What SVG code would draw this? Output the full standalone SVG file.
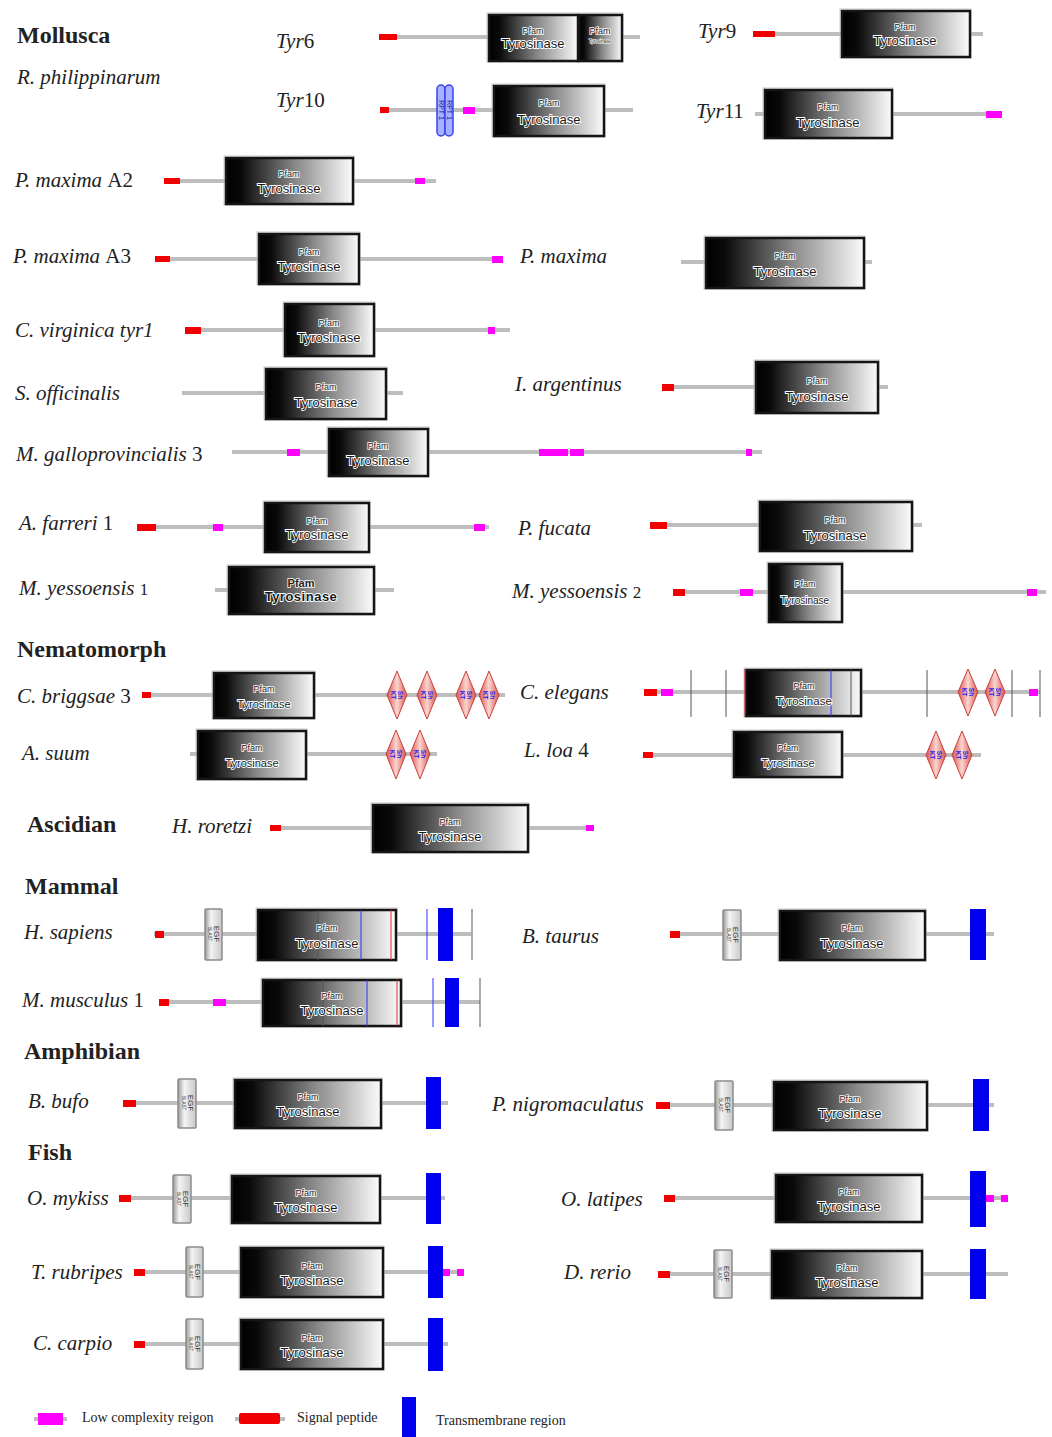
<svg xmlns="http://www.w3.org/2000/svg" width="1052" height="1437" viewBox="0 0 1052 1437">
<defs>
<linearGradient id="pfg" x1="0" y1="0" x2="1" y2="0">
<stop offset="0" stop-color="#000"/><stop offset="0.12" stop-color="#0a0a0a"/><stop offset="0.55" stop-color="#8a8a8a"/><stop offset="1" stop-color="#fbfbfb"/>
</linearGradient>
<linearGradient id="egfg" x1="0" y1="0" x2="1" y2="0">
<stop offset="0" stop-color="#9a9a9a"/><stop offset="0.35" stop-color="#f4f4f4"/><stop offset="1" stop-color="#c8c8c8"/>
</linearGradient>
<linearGradient id="dmg" x1="0" y1="0" x2="1" y2="0">
<stop offset="0" stop-color="#d9534f"/><stop offset="0.5" stop-color="#fbd5d0"/><stop offset="1" stop-color="#d9534f"/>
</linearGradient>
</defs>
<style>
.ln{stroke:#bdbdbd;stroke-width:4;fill:none}
.sp{fill:#f00000}
.lc{fill:#ff00ff}
.tm{fill:#0000ee}
.pf{fill:url(#pfg);stroke:#151515;stroke-width:2.5}
.pfo{fill:none;stroke:#c8c8c8;stroke-width:1}
.pfs{font-family:"Liberation Sans",Arial,sans-serif;font-size:9px;fill:#222;text-anchor:middle;stroke:#fff;stroke-width:1.6;paint-order:stroke}
.pft{font-family:"Liberation Sans",Arial,sans-serif;font-size:13px;fill:#1a1a1a;text-anchor:middle;stroke:#fff;stroke-width:1.8;paint-order:stroke}
.lb{font-family:"Liberation Serif","Times New Roman",serif;font-style:italic;font-size:21px;fill:#222}
.n{font-style:normal}
.hd{font-family:"Liberation Serif","Times New Roman",serif;font-weight:bold;font-size:24px;fill:#222}
.egf{fill:url(#egfg);stroke:#8c8c8c;stroke-width:1.5}
.egt{font-family:"Liberation Sans",Arial,sans-serif;font-size:8px;fill:#333;text-anchor:middle}
.egs{font-family:"Liberation Sans",Arial,sans-serif;font-size:4.5px;fill:#333;text-anchor:middle}
.dm{fill:url(#dmg);stroke:#c9403c;stroke-width:1}
.dt{font-family:"Liberation Sans",Arial,sans-serif;font-size:6.5px;fill:#2020ee;font-weight:bold;text-anchor:middle}
.vl{stroke:#555;stroke-width:1}
.vb{stroke:#3030ff;stroke-width:1}
.vr{stroke:#e03030;stroke-width:1}
.rpt{fill:#a8b0ff;stroke:#3344ee;stroke-width:1.5}
.rt{font-family:"Liberation Sans",Arial,sans-serif;font-size:7px;fill:#1a1aa0;text-anchor:middle}
.lg{font-family:"Liberation Serif","Times New Roman",serif;font-size:14px;fill:#222}
</style>

<g id="headers">
<text class="hd" x="17" y="43">Mollusca</text>
<text class="lb" x="17" y="84">R. philippinarum</text>
<text class="hd" x="17" y="657">Nematomorph</text>
<text class="hd" x="27" y="832">Ascidian</text>
<text class="hd" x="25" y="894">Mammal</text>
<text class="hd" x="24" y="1059">Amphibian</text>
<text class="hd" x="28" y="1160">Fish</text>
</g>

<g id="labels">
<text class="lb" x="276" y="48">Tyr<tspan class="n">6</tspan></text>
<text class="lb" x="698" y="38">Tyr<tspan class="n">9</tspan></text>
<text class="lb" x="276" y="107">Tyr<tspan class="n">10</tspan></text>
<text class="lb" x="696" y="118">Tyr<tspan class="n">11</tspan></text>
<text class="lb" x="15" y="187">P. maxima <tspan class="n">A2</tspan></text>
<text class="lb" x="13" y="263">P. maxima <tspan class="n">A3</tspan></text>
<text class="lb" x="520" y="263">P. maxima</text>
<text class="lb" x="15" y="337">C. virginica tyr1</text>
<text class="lb" x="15" y="400">S. officinalis</text>
<text class="lb" x="515" y="391">I. argentinus</text>
<text class="lb" x="16" y="461">M. galloprovincialis <tspan class="n">3</tspan></text>
<text class="lb" x="19" y="530">A. farreri <tspan class="n">1</tspan></text>
<text class="lb" x="518" y="535">P. fucata</text>
<text class="lb" x="19" y="595">M. yessoensis <tspan class="n" font-size="17">1</tspan></text>
<text class="lb" x="512" y="598">M. yessoensis <tspan class="n" font-size="17">2</tspan></text>
<text class="lb" x="17" y="703">C. briggsae <tspan class="n">3</tspan></text>
<text class="lb" x="520" y="699">C. elegans</text>
<text class="lb" x="22" y="760">A. suum</text>
<text class="lb" x="524" y="757">L. loa <tspan class="n">4</tspan></text>
<text class="lb" x="172" y="833">H. roretzi</text>
<text class="lb" x="24" y="939">H. sapiens</text>
<text class="lb" x="522" y="943">B. taurus</text>
<text class="lb" x="22" y="1007">M. musculus <tspan class="n">1</tspan></text>
<text class="lb" x="28" y="1108">B. bufo</text>
<text class="lb" x="492" y="1111">P. nigromaculatus</text>
<text class="lb" x="27" y="1205">O. mykiss</text>
<text class="lb" x="561" y="1206">O. latipes</text>
<text class="lb" x="31" y="1279">T. rubripes</text>
<text class="lb" x="564" y="1279">D. rerio</text>
<text class="lb" x="33" y="1350">C. carpio</text>
</g>

<g id="connectors">
<line class="ln" x1="379" y1="37" x2="640" y2="37"/>
<line class="ln" x1="753" y1="34" x2="983" y2="34"/>
<line class="ln" x1="380" y1="110" x2="633" y2="110"/>
<line class="ln" x1="755" y1="114" x2="1002" y2="114"/>
<line class="ln" x1="164" y1="181" x2="436" y2="181"/>
<line class="ln" x1="155" y1="259" x2="503" y2="259"/>
<line class="ln" x1="681" y1="262" x2="872" y2="262"/>
<line class="ln" x1="185" y1="330" x2="510" y2="330"/>
<line class="ln" x1="182" y1="393" x2="403" y2="393"/>
<line class="ln" x1="662" y1="387" x2="888" y2="387"/>
<line class="ln" x1="232" y1="452" x2="762" y2="452"/>
<line class="ln" x1="137" y1="527" x2="489" y2="527"/>
<line class="ln" x1="650" y1="525" x2="922" y2="525"/>
<line class="ln" x1="215" y1="590" x2="394" y2="590"/>
<line class="ln" x1="673" y1="592" x2="1046" y2="592"/>
<line class="ln" x1="142" y1="695" x2="505" y2="695"/>
<line class="ln" x1="644" y1="692" x2="1040" y2="692"/>
<line class="ln" x1="190" y1="754" x2="437" y2="754"/>
<line class="ln" x1="643" y1="755" x2="981" y2="755"/>
<line class="ln" x1="270" y1="828" x2="594" y2="828"/>
<line class="ln" x1="154" y1="934" x2="471" y2="934"/>
<line class="ln" x1="670" y1="934" x2="994" y2="934"/>
<line class="ln" x1="159" y1="1002" x2="480" y2="1002"/>
<line class="ln" x1="123" y1="1103" x2="448" y2="1103"/>
<line class="ln" x1="656" y1="1105" x2="994" y2="1105"/>
<line class="ln" x1="119" y1="1198" x2="445" y2="1198"/>
<line class="ln" x1="664" y1="1198" x2="1008" y2="1198"/>
<line class="ln" x1="134" y1="1272" x2="464" y2="1272"/>
<line class="ln" x1="658" y1="1274" x2="1008" y2="1274"/>
<line class="ln" x1="134" y1="1344" x2="448" y2="1344"/>
</g>

<g id="tyr6">
<rect class="sp" x="379" y="34" width="18" height="6"/>
<rect class="pfo" x="487" y="13" width="136" height="49"/>
<rect class="pf" x="489" y="15" width="89" height="46"/>
<text class="pfs" x="533" y="34">Pfam</text><text class="pft" x="533" y="48">Tyrosinase</text>
<rect class="pf" x="579" y="15" width="43" height="46"/>
<text class="pfs" x="600" y="34">Pfam</text><text class="pfs" x="600" y="43" style="font-size:4.5px;stroke-width:1">Tyrosinase</text>
</g>

<g id="tyr9">
<rect class="sp" x="753" y="31" width="22" height="6"/>
<rect class="pfo" x="840" y="9" width="131" height="49"/>
<rect class="pf" x="842" y="11" width="128" height="46"/>
<text class="pfs" x="905" y="30">Pfam</text><text class="pft" x="905" y="45">Tyrosinase</text>
</g>

<g id="tyr10">
<rect class="sp" x="380" y="107" width="9" height="6"/>
<rect class="rpt" x="437" y="85" width="8" height="51" rx="4"/>
<rect class="rpt" x="445" y="85" width="8" height="51" rx="4"/>
<text class="rt" transform="translate(441,110) rotate(90)" y="2.5">RPT 1</text>
<text class="rt" transform="translate(449,110) rotate(90)" y="2.5">RPT 1</text>
<rect class="lc" x="463" y="107" width="12" height="7"/>
<rect class="pfo" x="492" y="84" width="113" height="53"/>
<rect class="pf" x="494" y="86" width="110" height="50"/>
<text class="pfs" x="549" y="106">Pfam</text><text class="pft" x="549" y="124">Tyrosinase</text>
</g>

<g id="tyr11">
<rect class="pfo" x="763" y="88" width="130" height="51"/>
<rect class="pf" x="765" y="90" width="127" height="48"/>
<text class="pfs" x="828" y="110">Pfam</text><text class="pft" x="828" y="127">Tyrosinase</text>
<rect class="lc" x="986" y="111" width="16" height="7"/>
</g>

<g id="pmaxA2">
<rect class="sp" x="164" y="178" width="16" height="6"/>
<rect class="pfo" x="224" y="156" width="130" height="49"/>
<rect class="pf" x="226" y="158" width="127" height="46"/>
<text class="pfs" x="289" y="177">Pfam</text><text class="pft" x="289" y="193">Tyrosinase</text>
<rect class="lc" x="415" y="178" width="10" height="6"/>
</g>

<g id="pmaxA3">
<rect class="sp" x="155" y="256" width="15" height="6"/>
<rect class="pfo" x="257" y="232" width="103" height="53"/>
<rect class="pf" x="259" y="234" width="100" height="50"/>
<text class="pfs" x="309" y="255">Pfam</text><text class="pft" x="309" y="271">Tyrosinase</text>
<rect class="lc" x="492" y="256" width="11" height="7"/>
</g>

<g id="pmax">
<rect class="pfo" x="704" y="236" width="161" height="53"/>
<rect class="pf" x="706" y="238" width="158" height="50"/>
<text class="pfs" x="785" y="259">Pfam</text><text class="pft" x="785" y="276">Tyrosinase</text>
</g>

<g id="cvirg">
<rect class="sp" x="185" y="327" width="16" height="7"/>
<rect class="pfo" x="283" y="302" width="92" height="55"/>
<rect class="pf" x="285" y="304" width="89" height="52"/>
<text class="pfs" x="329" y="326">Pfam</text><text class="pft" x="329" y="342">Tyrosinase</text>
<rect class="lc" x="488" y="327" width="7" height="7"/>
</g>

<g id="soff">
<rect class="pfo" x="264" y="367" width="123" height="53"/>
<rect class="pf" x="266" y="369" width="120" height="50"/>
<text class="pfs" x="326" y="390">Pfam</text><text class="pft" x="326" y="407">Tyrosinase</text>
</g>

<g id="iarg">
<rect class="sp" x="662" y="384" width="12" height="7"/>
<rect class="pfo" x="754" y="360" width="125" height="54"/>
<rect class="pf" x="756" y="362" width="122" height="51"/>
<text class="pfs" x="817" y="384">Pfam</text><text class="pft" x="817" y="401">Tyrosinase</text>
</g>

<g id="mgallo">
<rect class="lc" x="287" y="449" width="13" height="7"/>
<rect class="pfo" x="327" y="427" width="102" height="50"/>
<rect class="pf" x="329" y="429" width="99" height="47"/>
<text class="pfs" x="378" y="449">Pfam</text><text class="pft" x="378" y="465">Tyrosinase</text>
<rect class="lc" x="539" y="449" width="29" height="7"/>
<rect class="lc" x="570" y="449" width="14" height="7"/>
<rect class="lc" x="746" y="449" width="6" height="7"/>
</g>

<g id="afarreri">
<rect class="sp" x="137" y="524" width="19" height="7"/>
<rect class="lc" x="213" y="524" width="10" height="7"/>
<rect class="pfo" x="263" y="501" width="107" height="52"/>
<rect class="pf" x="265" y="503" width="104" height="49"/>
<text class="pfs" x="317" y="524">Pfam</text><text class="pft" x="317" y="539">Tyrosinase</text>
<rect class="lc" x="474" y="524" width="11" height="7"/>
</g>

<g id="pfucata">
<rect class="sp" x="650" y="522" width="17" height="7"/>
<rect class="pfo" x="758" y="500" width="155" height="52"/>
<rect class="pf" x="760" y="502" width="152" height="49"/>
<text class="pfs" x="835" y="523">Pfam</text><text class="pft" x="835" y="540">Tyrosinase</text>
</g>

<g id="myess1">
<rect class="pfo" x="227" y="565" width="148" height="50"/>
<rect class="pf" x="229" y="567" width="145" height="47"/>
<text class="pfs" x="301" y="587" style="font-size:11px;font-weight:bold">Pfam</text><text class="pft" x="301" y="601" style="font-size:13px;font-weight:bold;letter-spacing:0.5px">Tyrosinase</text>
</g>

<g id="myess2">
<rect class="sp" x="673" y="589" width="12" height="7"/>
<rect class="lc" x="740" y="589" width="13" height="7"/>
<rect class="pfo" x="767" y="562" width="76" height="61"/>
<rect class="pf" x="769" y="564" width="73" height="58"/>
<text class="pfs" x="805" y="587">Pfam</text><text class="pft" x="805" y="604" style="font-size:10px">Tyrosinase</text>
<rect class="lc" x="1027" y="589" width="10" height="7"/>
</g>

<g id="cbrigg">
<rect class="sp" x="142" y="692" width="9" height="6"/>
<rect class="pfo" x="212" y="671" width="103" height="48"/>
<rect class="pf" x="214" y="673" width="100" height="45"/>
<text class="pfs" x="264" y="692">Pfam</text><text class="pft" x="264" y="708" style="font-size:11px">Tyrosinase</text>
<polygon class="dm" points="397,671 407,695 397,719 387,695"/>
<text class="dt" transform="translate(397,695) rotate(90)" y="-1">Sh</text><text class="dt" transform="translate(397,695) rotate(90)" y="6">KT</text>
<polygon class="dm" points="427,671 437,695 427,719 417,695"/>
<text class="dt" transform="translate(427,695) rotate(90)" y="-1">Sh</text><text class="dt" transform="translate(427,695) rotate(90)" y="6">KT</text>
<polygon class="dm" points="466,671 476,695 466,719 456,695"/>
<text class="dt" transform="translate(466,695) rotate(90)" y="-1">Sh</text><text class="dt" transform="translate(466,695) rotate(90)" y="6">KT</text>
<polygon class="dm" points="489,671 499,695 489,719 479,695"/>
<text class="dt" transform="translate(489,695) rotate(90)" y="-1">Sh</text><text class="dt" transform="translate(489,695) rotate(90)" y="6">KT</text>
</g>

<g id="celegans">
<rect class="sp" x="644" y="689" width="13" height="7"/>
<rect class="lc" x="661" y="689" width="12" height="7"/>
<line class="vl" x1="691" y1="670" x2="691" y2="717"/>
<line class="vl" x1="726" y1="670" x2="726" y2="717"/>
<rect class="pfo" x="744" y="668" width="118" height="49"/>
<rect class="pf" x="746" y="670" width="115" height="46"/>
<line class="vr" x1="745" y1="669" x2="745" y2="716"/>
<line class="vb" x1="831" y1="670" x2="831" y2="716"/>
<line class="vl" x1="851" y1="670" x2="851" y2="716"/>
<text class="pfs" x="804" y="689">Pfam</text><text class="pft" x="804" y="705" style="font-size:11.5px">Tyrosinase</text>
<line class="vl" x1="927" y1="670" x2="927" y2="717"/>
<polygon class="dm" points="968,669 978,692 968,716 958,692"/>
<text class="dt" transform="translate(968,692) rotate(90)" y="-1">Sh</text><text class="dt" transform="translate(968,692) rotate(90)" y="6">KT</text>
<polygon class="dm" points="995,669 1005,692 995,716 985,692"/>
<text class="dt" transform="translate(995,692) rotate(90)" y="-1">Sh</text><text class="dt" transform="translate(995,692) rotate(90)" y="6">KT</text>
<line class="vl" x1="1012" y1="670" x2="1012" y2="717"/>
<rect class="lc" x="1029" y="689" width="9" height="7"/>
<line class="vl" x1="1040" y1="670" x2="1040" y2="717"/>
</g>

<g id="asuum">
<rect class="pfo" x="196" y="729" width="111" height="51"/>
<rect class="pf" x="198" y="731" width="108" height="48"/>
<text class="pfs" x="252" y="751">Pfam</text><text class="pft" x="252" y="767" style="font-size:11px">Tyrosinase</text>
<polygon class="dm" points="396,730 406,754 396,779 386,754"/>
<text class="dt" transform="translate(396,754) rotate(90)" y="-1">Sh</text><text class="dt" transform="translate(396,754) rotate(90)" y="6">KT</text>
<polygon class="dm" points="420,730 430,754 420,779 410,754"/>
<text class="dt" transform="translate(420,754) rotate(90)" y="-1">Sh</text><text class="dt" transform="translate(420,754) rotate(90)" y="6">KT</text>
</g>

<g id="lloa">
<rect class="sp" x="643" y="752" width="10" height="6"/>
<rect class="pfo" x="732" y="730" width="111" height="48"/>
<rect class="pf" x="734" y="732" width="108" height="45"/>
<text class="pfs" x="788" y="751">Pfam</text><text class="pft" x="788" y="767" style="font-size:11px">Tyrosinase</text>
<polygon class="dm" points="936,731 946,755 936,779 926,755"/>
<text class="dt" transform="translate(936,755) rotate(90)" y="-1">Sh</text><text class="dt" transform="translate(936,755) rotate(90)" y="6">KT</text>
<polygon class="dm" points="962,731 972,755 962,779 952,755"/>
<text class="dt" transform="translate(962,755) rotate(90)" y="-1">Sh</text><text class="dt" transform="translate(962,755) rotate(90)" y="6">KT</text>
</g>

<g id="hroretzi">
<rect class="sp" x="270" y="825" width="11" height="6"/>
<rect class="pfo" x="371" y="803" width="158" height="50"/>
<rect class="pf" x="373" y="805" width="155" height="47"/>
<text class="pfs" x="450" y="825">Pfam</text><text class="pft" x="450" y="841">Tyrosinase</text>
<rect class="lc" x="586" y="825" width="8" height="6"/>
</g>

<g id="hsapiens">
<rect class="sp" x="155" y="931" width="9" height="7"/>
<rect class="egf" x="205" y="909" width="17" height="51" rx="1"/>
<text class="egt" transform="translate(213,934) rotate(90)" y="-1">EGF</text><text class="egs" transform="translate(213,934) rotate(90)" y="5">BLAST</text>
<rect class="pfo" x="256" y="908" width="141" height="53"/>
<rect class="pf" x="258" y="910" width="138" height="50"/>
<line class="vl" x1="318" y1="910" x2="318" y2="960"/>
<line class="vb" x1="361" y1="910" x2="361" y2="960"/>
<line class="vr" x1="391" y1="910" x2="391" y2="960"/>
<text class="pfs" x="327" y="931">Pfam</text><text class="pft" x="327" y="948">Tyrosinase</text>
<line class="vb" x1="427" y1="909" x2="427" y2="960"/>
<rect class="tm" x="438" y="908" width="15" height="53"/>
<line class="vl" x1="472" y1="909" x2="472" y2="960"/>
</g>

<g id="btaurus">
<rect class="sp" x="670" y="931" width="10" height="7"/>
<rect class="egf" x="723" y="910" width="18" height="50" rx="1"/>
<text class="egt" transform="translate(732,935) rotate(90)" y="-1">EGF</text><text class="egs" transform="translate(732,935) rotate(90)" y="5">BLAST</text>
<rect class="pfo" x="778" y="909" width="148" height="52"/>
<rect class="pf" x="780" y="911" width="145" height="49"/>
<text class="pfs" x="852" y="931">Pfam</text><text class="pft" x="852" y="948">Tyrosinase</text>
<rect class="tm" x="970" y="909" width="16" height="51"/>
</g>

<g id="mmusculus">
<rect class="sp" x="159" y="999" width="10" height="7"/>
<rect class="lc" x="213" y="999" width="13" height="7"/>
<rect class="pfo" x="261" y="978" width="141" height="49"/>
<rect class="pf" x="263" y="980" width="138" height="46"/>
<line class="vl" x1="323" y1="980" x2="323" y2="1026"/>
<line class="vb" x1="367" y1="980" x2="367" y2="1026"/>
<line class="vr" x1="397" y1="980" x2="397" y2="1026"/>
<text class="pfs" x="332" y="999">Pfam</text><text class="pft" x="332" y="1015">Tyrosinase</text>
<line class="vb" x1="433" y1="978" x2="433" y2="1027"/>
<rect class="tm" x="445" y="978" width="14" height="49"/>
<line class="vl" x1="480" y1="978" x2="480" y2="1027"/>
</g>

<g id="bbufo">
<rect class="sp" x="123" y="1100" width="13" height="7"/>
<rect class="egf" x="178" y="1079" width="18" height="49" rx="1"/>
<text class="egt" transform="translate(187,1103) rotate(90)" y="-1">EGF</text><text class="egs" transform="translate(187,1103) rotate(90)" y="5">BLAST</text>
<rect class="pfo" x="233" y="1078" width="149" height="51"/>
<rect class="pf" x="235" y="1080" width="146" height="48"/>
<text class="pfs" x="308" y="1100">Pfam</text><text class="pft" x="308" y="1116">Tyrosinase</text>
<rect class="tm" x="426" y="1077" width="15" height="52"/>
</g>

<g id="pnigro">
<rect class="sp" x="656" y="1102" width="14" height="7"/>
<rect class="egf" x="715" y="1081" width="18" height="49" rx="1"/>
<text class="egt" transform="translate(724,1105) rotate(90)" y="-1">EGF</text><text class="egs" transform="translate(724,1105) rotate(90)" y="5">BLAST</text>
<rect class="pfo" x="772" y="1080" width="156" height="51"/>
<rect class="pf" x="774" y="1082" width="153" height="48"/>
<text class="pfs" x="850" y="1102">Pfam</text><text class="pft" x="850" y="1118">Tyrosinase</text>
<rect class="tm" x="973" y="1079" width="16" height="52"/>
</g>

<g id="omykiss">
<rect class="sp" x="119" y="1195" width="12" height="7"/>
<rect class="egf" x="173" y="1175" width="18" height="48" rx="1"/>
<text class="egt" transform="translate(182,1199) rotate(90)" y="-1">EGF</text><text class="egs" transform="translate(182,1199) rotate(90)" y="5">BLAST</text>
<rect class="pfo" x="230" y="1174" width="151" height="50"/>
<rect class="pf" x="232" y="1176" width="148" height="47"/>
<text class="pfs" x="306" y="1196">Pfam</text><text class="pft" x="306" y="1212">Tyrosinase</text>
<rect class="tm" x="426" y="1173" width="15" height="51"/>
</g>

<g id="olatipes">
<rect class="sp" x="664" y="1195" width="11" height="7"/>
<rect class="pfo" x="774" y="1173" width="149" height="50"/>
<rect class="pf" x="776" y="1175" width="146" height="47"/>
<text class="pfs" x="849" y="1195">Pfam</text><text class="pft" x="849" y="1211">Tyrosinase</text>
<rect class="tm" x="970" y="1171" width="16" height="56"/>
<rect class="lc" x="986" y="1195" width="8" height="7"/>
<rect class="lc" x="1001" y="1195" width="7" height="7"/>
</g>

<g id="trubripes">
<rect class="sp" x="134" y="1269" width="11" height="7"/>
<rect class="egf" x="186" y="1247" width="17" height="50" rx="1"/>
<text class="egt" transform="translate(194,1272) rotate(90)" y="-1">EGF</text><text class="egs" transform="translate(194,1272) rotate(90)" y="5">BLAST</text>
<rect class="pfo" x="239" y="1246" width="145" height="52"/>
<rect class="pf" x="241" y="1248" width="142" height="49"/>
<text class="pfs" x="312" y="1269">Pfam</text><text class="pft" x="312" y="1285">Tyrosinase</text>
<rect class="tm" x="428" y="1246" width="15" height="52"/>
<rect class="lc" x="443" y="1269" width="7" height="7"/>
<rect class="lc" x="457" y="1269" width="7" height="7"/>
</g>

<g id="drerio">
<rect class="sp" x="658" y="1271" width="12" height="7"/>
<rect class="egf" x="714" y="1250" width="18" height="48" rx="1"/>
<text class="egt" transform="translate(723,1274) rotate(90)" y="-1">EGF</text><text class="egs" transform="translate(723,1274) rotate(90)" y="5">BLAST</text>
<rect class="pfo" x="770" y="1249" width="153" height="50"/>
<rect class="pf" x="772" y="1251" width="150" height="47"/>
<text class="pfs" x="847" y="1271">Pfam</text><text class="pft" x="847" y="1287">Tyrosinase</text>
<rect class="tm" x="970" y="1249" width="16" height="50"/>
</g>

<g id="ccarpio">
<rect class="sp" x="134" y="1341" width="11" height="7"/>
<rect class="egf" x="186" y="1319" width="17" height="50" rx="1"/>
<text class="egt" transform="translate(194,1344) rotate(90)" y="-1">EGF</text><text class="egs" transform="translate(194,1344) rotate(90)" y="5">BLAST</text>
<rect class="pfo" x="239" y="1318" width="145" height="52"/>
<rect class="pf" x="241" y="1320" width="142" height="49"/>
<text class="pfs" x="312" y="1341">Pfam</text><text class="pft" x="312" y="1357">Tyrosinase</text>
<rect class="tm" x="428" y="1318" width="15" height="53"/>
</g>

<g id="legend">
<line class="ln" x1="34" y1="1419" x2="67" y2="1419"/>
<rect class="lc" x="38" y="1413" width="25" height="12"/>
<text class="lg" x="82" y="1422">Low complexity reigon</text>
<line class="ln" x1="235" y1="1419" x2="285" y2="1419"/>
<rect class="sp" x="239" y="1413" width="41" height="11" rx="2"/>
<text class="lg" x="297" y="1422">Signal peptide</text>
<rect class="tm" x="402" y="1397" width="14" height="40"/>
<text class="lg" x="436" y="1425">Transmembrane region</text>
</g>
</svg>
